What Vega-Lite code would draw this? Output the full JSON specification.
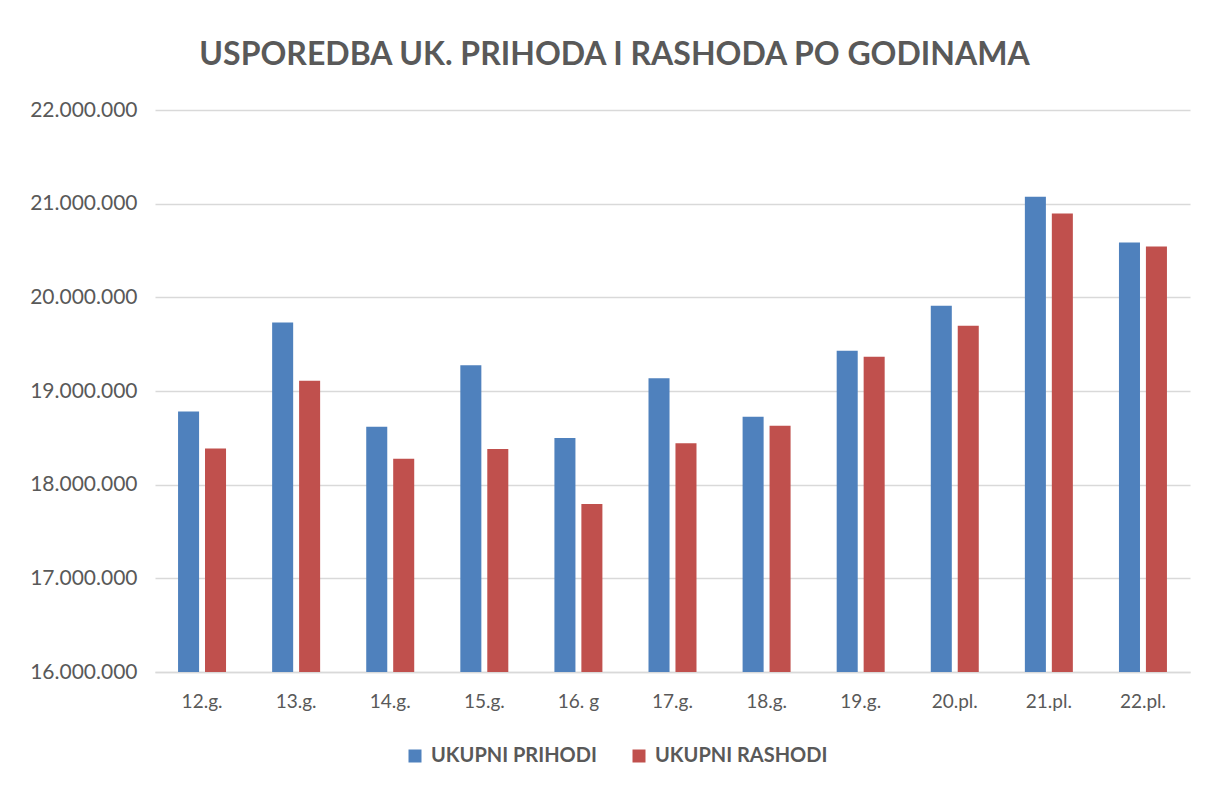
{
  "$schema": "https://vega.github.io/schema/vega-lite/v6.json",
  "width": 1035,
  "height": 562,
  "autosize": "none",
  "padding": {"left": 155, "top": 110, "right": 18, "bottom": 117},
  "background": "white",
  "config": {
    "locale": {"number": {"decimal": ",", "thousands": ".", "grouping": [3], "currency": ["", ""]}},
    "view": {"stroke": null},
    "font": "Lato"
  },
  "title": {
    "text": "USPOREDBA UK. PRIHODA I RASHODA PO GODINAMA",
    "font": "Lato",
    "fontSize": 32,
    "fontWeight": "bold",
    "color": "#595959",
    "anchor": "middle",
    "dx": -58,
    "offset": 27
  },
  "data": {
    "values": [
      {"g": "12.g.", "s": "UKUPNI PRIHODI", "v": 18780000},
      {"g": "12.g.", "s": "UKUPNI RASHODI", "v": 18385000},
      {"g": "13.g.", "s": "UKUPNI PRIHODI", "v": 19730000},
      {"g": "13.g.", "s": "UKUPNI RASHODI", "v": 19110000},
      {"g": "14.g.", "s": "UKUPNI PRIHODI", "v": 18617000},
      {"g": "14.g.", "s": "UKUPNI RASHODI", "v": 18278000},
      {"g": "15.g.", "s": "UKUPNI PRIHODI", "v": 19276000},
      {"g": "15.g.", "s": "UKUPNI RASHODI", "v": 18382000},
      {"g": "16. g", "s": "UKUPNI PRIHODI", "v": 18499000},
      {"g": "16. g", "s": "UKUPNI RASHODI", "v": 17793000},
      {"g": "17.g.", "s": "UKUPNI PRIHODI", "v": 19137000},
      {"g": "17.g.", "s": "UKUPNI RASHODI", "v": 18442000},
      {"g": "18.g.", "s": "UKUPNI PRIHODI", "v": 18724000},
      {"g": "18.g.", "s": "UKUPNI RASHODI", "v": 18628000},
      {"g": "19.g.", "s": "UKUPNI PRIHODI", "v": 19430000},
      {"g": "19.g.", "s": "UKUPNI RASHODI", "v": 19366000},
      {"g": "20.pl.", "s": "UKUPNI PRIHODI", "v": 19911000},
      {"g": "20.pl.", "s": "UKUPNI RASHODI", "v": 19697000},
      {"g": "21.pl.", "s": "UKUPNI PRIHODI", "v": 21073000},
      {"g": "21.pl.", "s": "UKUPNI RASHODI", "v": 20895000},
      {"g": "22.pl.", "s": "UKUPNI PRIHODI", "v": 20585000},
      {"g": "22.pl.", "s": "UKUPNI RASHODI", "v": 20542000}
    ]
  },
  "mark": {"type": "bar", "clip": true},
  "encoding": {
    "x": {
      "field": "g",
      "type": "nominal",
      "sort": ["12.g.", "13.g.", "14.g.", "15.g.", "16. g", "17.g.", "18.g.", "19.g.", "20.pl.", "21.pl.", "22.pl."],
      "scale": {"paddingInner": 0.49, "paddingOuter": 0.245},
      "axis": {
        "title": null,
        "labelAngle": 0,
        "domain": true,
        "domainColor": "#d9d9d9",
        "domainWidth": 1.5,
        "ticks": false,
        "grid": false,
        "labelFont": "Lato",
        "labelFontSize": 19,
        "labelColor": "#595959",
        "labelPadding": 20,
        "labelLimit": 300
      }
    },
    "xOffset": {
      "field": "s",
      "type": "nominal",
      "sort": ["UKUPNI PRIHODI", "UKUPNI RASHODI"],
      "scale": {"paddingInner": 0.22, "paddingOuter": 0}
    },
    "y": {
      "field": "v",
      "type": "quantitative",
      "scale": {"domain": [16000000, 22000000], "nice": false, "zero": false},
      "axis": {
        "title": null,
        "values": [16000000, 17000000, 18000000, 19000000, 20000000, 21000000, 22000000],
        "format": ",.0f",
        "domain": false,
        "ticks": false,
        "gridColor": "#d9d9d9",
        "gridWidth": 1.5,
        "labelFont": "Lato",
        "labelFontSize": 21,
        "labelColor": "#595959",
        "labelPadding": 18,
        "labelLimit": 300
      }
    },
    "color": {
      "field": "s",
      "type": "nominal",
      "scale": {"domain": ["UKUPNI PRIHODI", "UKUPNI RASHODI"], "range": ["#4F81BD", "#C0504D"]},
      "legend": {
        "title": null,
        "orient": "none",
        "legendX": 250,
        "legendY": 636,
        "direction": "horizontal",
        "padding": 0,
        "symbolType": "square",
        "symbolSize": 169,
        "symbolStrokeWidth": 0,
        "labelFont": "Lato",
        "labelFontSize": 20,
        "labelFontWeight": "bold",
        "labelColor": "#595959",
        "labelOffset": 6,
        "labelLimit": 400,
        "columnPadding": 32
      }
    }
  }
}
